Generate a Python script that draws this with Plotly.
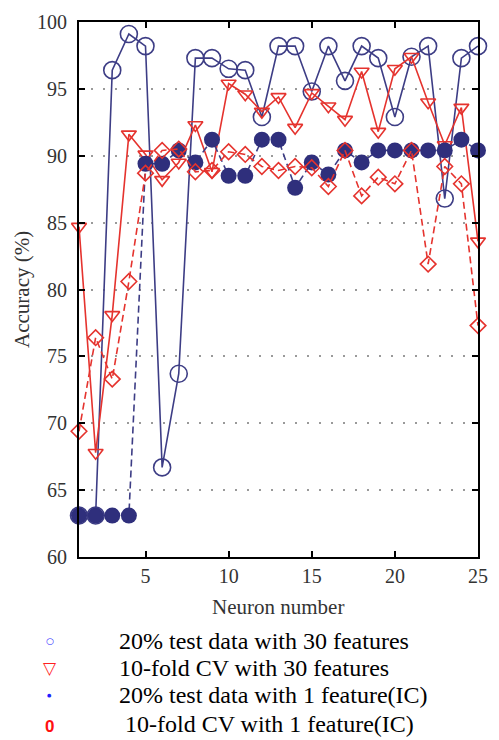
import plotly.graph_objects as go

# Neuron counts on the x axis
neurons = list(range(1, 26))

# Accuracy (%) for each configuration
test20_30feat = [63.1, 63.1, 96.4, 99.1, 98.2, 66.7, 73.7, 97.3, 97.3, 96.5,
                 96.4, 92.9, 98.2, 98.2, 94.8, 98.2, 95.6, 98.2, 97.3, 92.9,
                 97.4, 98.2, 86.8, 97.3, 98.2]
cv10_30feat = [84.7, 67.8, 78.1, 91.6, 90.1, 88.2, 89.5, 92.3, 88.8, 95.4,
               94.6, 93.3, 94.4, 92.1, 94.7, 93.7, 92.7, 96.3, 91.8, 96.5,
               97.4, 94.0, 90.8, 93.6, 83.6]
test20_1feat = [63.1, 63.1, 63.1, 63.1, 89.4, 89.4, 90.4, 89.5, 91.2, 88.5,
                88.5, 91.2, 91.2, 87.6, 89.5, 88.6, 90.4, 89.5, 90.4, 90.4,
                90.4, 90.4, 90.4, 91.2, 90.4]
cv10_1feat = [69.4, 76.4, 73.3, 80.6, 88.7, 90.4, 90.5, 88.8, 88.9, 90.3,
              90.1, 89.2, 88.9, 89.2, 89.1, 87.7, 90.4, 87.0, 88.4, 87.9,
              90.4, 81.9, 89.2, 87.9, 77.3]

legend_labels = [
    "20% test data with 30 features",
    "10-fold CV with 30 features",
    "20% test data with 1 feature(IC)",
    "10-fold CV with 1 feature(IC)",
]

NAVY = "#3d3d85"
NAVY_FILL = "#2f2f7c"
RED = "#e5332e"

fig = go.Figure()

fig.add_trace(go.Scatter(
    x=neurons, y=test20_30feat, mode="lines+markers", name=legend_labels[0],
    line=dict(color=NAVY, width=1.6),
    marker=dict(symbol="circle-open", size=17, color=NAVY, line=dict(width=1.6)),
    cliponaxis=False,
))
fig.add_trace(go.Scatter(
    x=neurons, y=cv10_30feat, mode="lines+markers", name=legend_labels[1],
    line=dict(color=RED, width=1.6),
    marker=dict(symbol="triangle-down-open", size=13, color=RED, line=dict(width=1.6)),
    cliponaxis=False,
))
fig.add_trace(go.Scatter(
    x=neurons, y=test20_1feat, mode="lines+markers", name=legend_labels[2],
    line=dict(color=NAVY, width=1.6, dash="7px,4px"),
    marker=dict(symbol="circle", size=16, color=NAVY_FILL),
    cliponaxis=False,
))
fig.add_trace(go.Scatter(
    x=neurons, y=cv10_1feat, mode="lines+markers", name=legend_labels[3],
    line=dict(color=RED, width=1.6, dash="7px,4px"),
    marker=dict(symbol="diamond-open", size=12, color=RED, line=dict(width=1.6)),
    cliponaxis=False,
))

AXIS_FONT = dict(family="Liberation Serif", size=20, color="#333333")
TITLE_FONT = dict(family="Liberation Serif", size=21, color="#333333")

fig.update_xaxes(
    range=[1, 25], tick0=0, dtick=5,
    showline=True, linecolor="black", linewidth=2, mirror="ticks",
    ticks="inside", ticklen=6, tickwidth=1.5, tickcolor="black",
    showgrid=False, zeroline=False,
    tickfont=AXIS_FONT,
)
fig.update_yaxes(
    range=[60, 100], tick0=60, dtick=5,
    showline=True, linecolor="black", linewidth=2, mirror="ticks",
    ticks="inside", ticklen=6, tickwidth=1.5, tickcolor="black",
    showgrid=True, gridcolor="#9a9a9a", gridwidth=1.5, griddash="2px,10px",
    zeroline=False, ticklabelstandoff=6,
    tickfont=AXIS_FONT,
)

# Plot-area geometry in pixels, used to place the text around it
W, H = 499, 740
L, R, T, B = 79, 488, 17, 557


def px(x):
    return (x - L) / (R - L)


def py(y):
    return (B - y) / (B - T)


annotations = [
    dict(text="Accuracy (%)", x=px(20), y=py(287), xref="paper", yref="paper",
         textangle=-90, showarrow=False, xanchor="center", yanchor="middle",
         font=TITLE_FONT),
    dict(text="Neuron number", x=px(283), y=py(607), xref="paper", yref="paper",
         showarrow=False, xanchor="center", yanchor="middle", font=TITLE_FONT),
]

# Custom key below the chart: a glyph and a caption per series
key_rows = [
    ("○", dict(family="DejaVu Sans", size=9, color="#1f1fff"), 641.5, 641.5, 118),
    ("▽", dict(family="DejaVu Sans", size=17, color="#ff2020"), 669, 669, 118),
    ("●", dict(family="DejaVu Sans", size=5, color="#1f1fff"), 696.5, 696.5, 118),
    ("<b>0</b>", dict(family="Liberation Sans", size=17, color="#ff1010"), 728.5, 726, 124),
]
for (glyph, gfont, gy, yc, tx), label in zip(key_rows, legend_labels):
    annotations.append(dict(text=glyph, x=px(49), y=py(gy), xref="paper", yref="paper",
                            showarrow=False, xanchor="center", yanchor="middle", font=gfont))
    annotations.append(dict(text=label, x=px(tx), y=py(yc), xref="paper", yref="paper",
                            showarrow=False, xanchor="left", yanchor="middle",
                            font=dict(family="Liberation Serif", size=24, color="black")))

fig.update_layout(
    width=W, height=H,
    margin=dict(l=L, r=W - R, t=T, b=H - B, pad=0),
    paper_bgcolor="white", plot_bgcolor="white",
    showlegend=False,
    annotations=annotations,
)

fig.write_html("out.html")
